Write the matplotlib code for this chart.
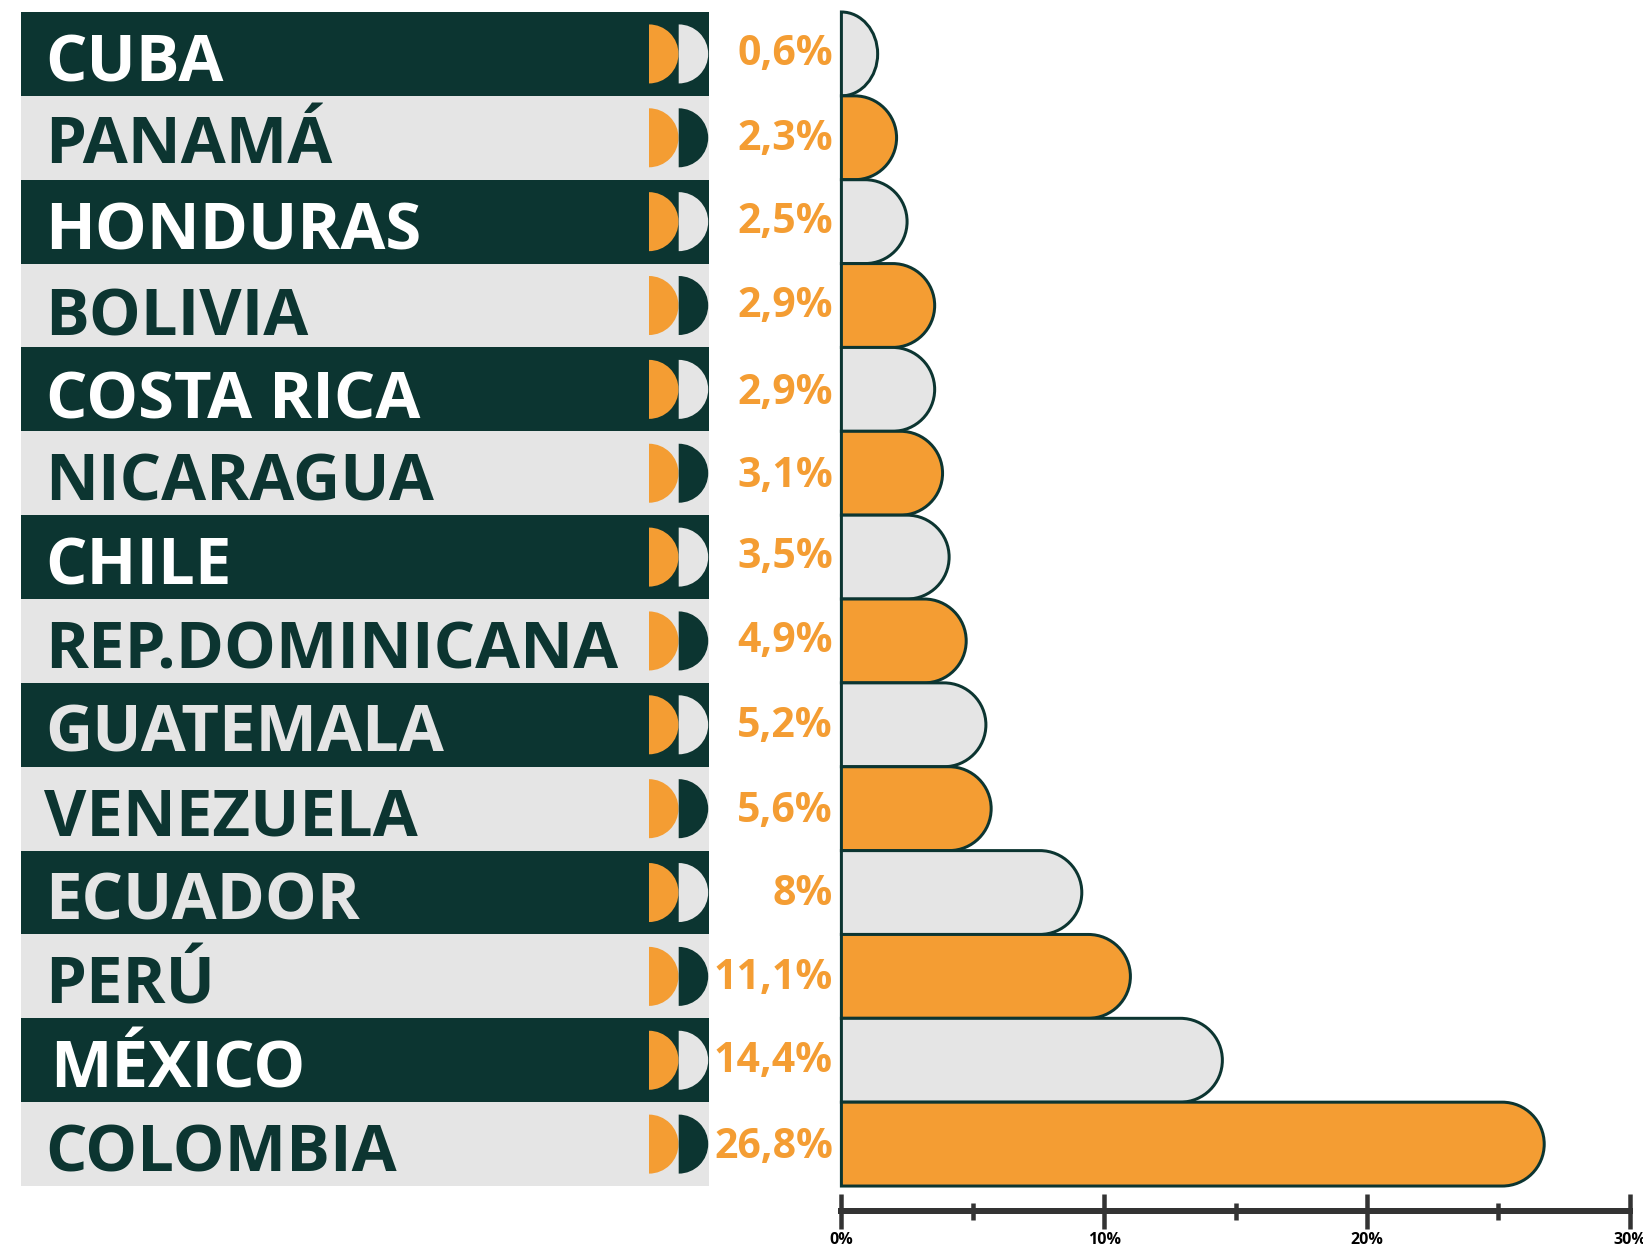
import matplotlib
matplotlib.use('Agg')
import matplotlib.pyplot as plt
from matplotlib.patches import PathPatch, Wedge
from matplotlib.path import Path

# rows top to bottom
countries = ['CUBA', 'PANAMÁ', 'HONDURAS', 'BOLIVIA', 'COSTA RICA', 'NICARAGUA', 'CHILE',
             'REP.DOMINICANA', 'GUATEMALA', 'VENEZUELA', 'ECUADOR', 'PERÚ', 'MÉXICO', 'COLOMBIA']
value_labels = ['0,6%', '2,3%', '2,5%', '2,9%', '2,9%', '3,1%', '3,5%',
                '4,9%', '5,2%', '5,6%', '8%', '11,1%', '14,4%', '26,8%']
# bar lengths as drawn in the picture (they differ from the printed labels)
bar_lengths = [1.38, 2.1, 2.5, 3.55, 3.55, 3.85, 4.1, 4.75, 5.5, 5.7, 9.15, 11.0, 14.5, 26.75]
axis_ticks = [0, 10, 20, 30]
axis_minor = [5, 15, 25]
axis_labels = ['0%', '10%', '20%', '30%']

dark = '#0C3531'
orange = '#F49D33'
grey = '#E5E5E5'

W, H = 1643, 1245
top, pitch = 12, 83.86
n = len(countries)
bottom = top + n * pitch
tab_l, tab_r = 21, 709
x0, x30 = 841.4, 1629.6
axis_y = 1210.7
px = 0.72  # px to pt at dpi 100

fig = plt.figure(figsize=(W / 100, H / 100), dpi=100)
plt.rcParams['font.family'] = ['Open Sans', 'DejaVu Sans']

# left table, axes in pixels
ax_tab = fig.add_axes([tab_l / W, 1 - bottom / H, (tab_r - tab_l) / W, (bottom - top) / H])
ax_tab.set_xlim(tab_l, tab_r)
ax_tab.set_ylim(bottom, top)
ax_tab.axis('off')

row_y = [top + pitch * (i + 0.5) for i in range(n)]
row_cols = [dark if i % 2 == 0 else grey for i in range(n)]
ax_tab.barh(row_y, tab_r - tab_l, height=pitch, left=tab_l, color=row_cols, linewidth=0)

# small nudges of the names, by eye
name_x = [45, 45, 45, 45, 46, 45, 45, 45, 45, 44, 45, 45, 50.5, 45]
name_base = [69.5, 67, 69.5, 71.5, 71.5, 69.5, 69, 69, 69, 69, 69, 69, 69, 69]
for i, name in enumerate(countries):
    col = grey if i in (8, 10) else ('white' if i % 2 == 0 else dark)
    ax_tab.text(name_x[i], top + pitch * i + name_base[i], name, color=col, fontsize=47,
                fontweight='bold', va='baseline', ha='left')
    ax_tab.add_patch(Wedge((649, row_y[i]), 29.5, -90, 90, color=orange, lw=0))
    ax_tab.add_patch(Wedge((678.7, row_y[i]), 29.5, -90, 90, color=grey if i % 2 == 0 else dark, lw=0))

# bars
ax = fig.add_axes([x0 / W, 1 - axis_y / H, (x30 - x0) / W, (axis_y - top) / H])
ax.set_xlim(0, 30)
ax.set_ylim((axis_y - top) / pitch, 0)
ax.patch.set_visible(False)
for s in ['top', 'left', 'right']:
    ax.spines[s].set_visible(False)
ax.spines['bottom'].set_color('#333333')
ax.spines['bottom'].set_linewidth(6 * px)
ax.set_yticks([])

# label height nudges in px
value_nudge = [-4, -3, -4, -4, -1, -2, -4, -4, -3, -2, -3, -3, -4, -2]
rx_full = 42 / ((x30 - x0) / 30)
for i, w in enumerate(bar_lengths):
    rx = min(rx_full, w)
    s = w - rx
    k = 0.5523
    verts = [(0, i), (s, i),
             (s + k * rx, i), (w, i + 0.5 - k * 0.5), (w, i + 0.5),
             (w, i + 0.5 + k * 0.5), (s + k * rx, i + 1), (s, i + 1),
             (0, i + 1), (0, i)]
    codes = [Path.MOVETO, Path.LINETO, Path.CURVE4, Path.CURVE4, Path.CURVE4,
             Path.CURVE4, Path.CURVE4, Path.CURVE4, Path.LINETO, Path.CLOSEPOLY]
    ax.add_patch(PathPatch(Path(verts, codes), facecolor=grey if i % 2 == 0 else orange,
                           edgecolor=dark, linewidth=3 * px, clip_on=False, joinstyle='miter'))
    ax.text(-0.32, i + 0.5 + value_nudge[i] * 1.05 / pitch, value_labels[i], color=orange,
            fontsize=29.5, fontweight='bold', ha='right', va='center_baseline', clip_on=False)

ax.set_xticks(axis_ticks)
ax.set_xticklabels(axis_labels, fontsize=11.5, fontweight='bold', color='black')
ax.set_xticks(axis_minor, minor=True)
ax.tick_params(axis='x', which='major', direction='inout', length=35 * px, width=4.5 * px,
               color='#333333', pad=2.5)
ax.tick_params(axis='x', which='minor', direction='inout', length=17 * px, width=4.5 * px,
               color='#333333')

fig.savefig('out.png', dpi=100, facecolor='white')
